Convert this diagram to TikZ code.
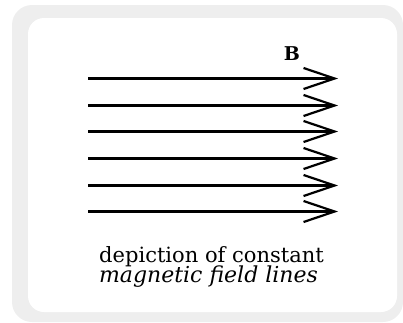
\documentclass[tikz,border=0pt]{standalone}
\usepackage{fontspec}
\setmainfont{DejaVu Serif}
\usepackage{xcolor}
\usetikzlibrary{arrows.meta,positioning}
\definecolor{panelgray}{HTML}{EEEEEE}
\tikzset{
  fieldline/.style={-{Straight Barb[length=31pt,width=21pt,line width=2.2pt]}, line width=2.8pt, draw=black},
  bsymbol/.style={font=\fontsize{19}{19}\selectfont\bfseries, inner sep=0pt, anchor=base},
  captext/.style={font=\fontsize{21}{21}\selectfont, inner sep=0pt, anchor=base},
}

\begin{document}
\begin{tikzpicture}[x=1pt,y=-1pt]
  \useasboundingbox (0,0) rectangle (403,322);
  % panels
  \fill[panelgray, rounded corners=20pt] (12,5) rectangle (403,322);
  \fill[white, rounded corners=16pt] (28,18) rectangle (397,312);
  % field lines
  \foreach \y [count=\i] in {78.5,105.5,131.5,158.5,185.5,211.5} {
    \coordinate (s\i) at (88,\y);
    \coordinate (e\i) at (338,\y);
    \draw[fieldline] (s\i) -- (e\i);
  }
  \node[bsymbol] (bsym) at (292,60.5) {B};
  \node[captext] (capA) at (211.5,262) {depiction of constant};
  \node[captext, font=\fontsize{22}{22}\selectfont\itshape] (capB) at (208.5,282) {magnetic field lines};
\end{tikzpicture}
\end{document}
